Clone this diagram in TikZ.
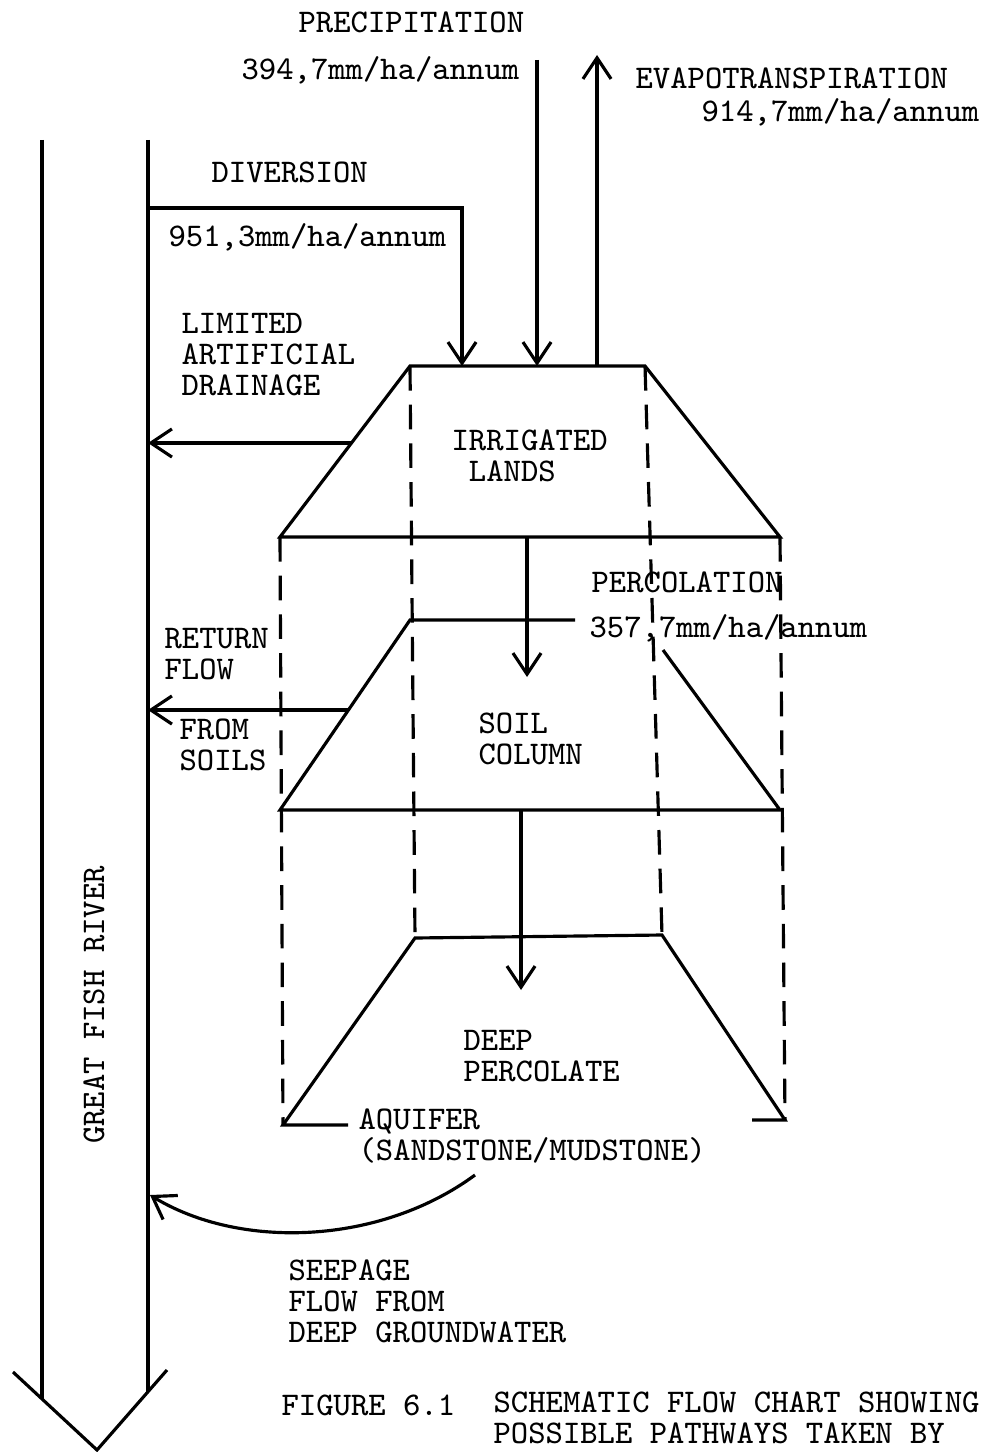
\documentclass[tikz,border=0pt]{standalone}
\usepackage{fontspec}
\usetikzlibrary{arrows.meta}
\begin{document}
\begin{tikzpicture}[x=0.01cm, y=-0.01cm, line width=0.9pt,
    flow/.style={-{Straight Barb[length=6pt,width=8pt]}},
    bound/.style={dash pattern=on 7pt off 4pt},
    label text/.style={align=left, anchor=west, inner sep=0pt}]
  \tikzstyle{every node}=[font=\fontsize{9.4}{8.8}\selectfont\ttfamily]
  \useasboundingbox (0,0) rectangle (999,1452);

  % river
  \coordinate (rl top) at (42,140);
  \coordinate (rr top) at (148,140);
  \coordinate (rl end) at (42,1399);
  \coordinate (rr end) at (148,1392);
  \coordinate (tip l) at (13,1372);
  \coordinate (tip) at (97,1450);
  \coordinate (tip r) at (167,1370);
  \draw (rl top) -- (rl end);
  \draw (rr top) -- (rr end);
  \draw (tip l) -- (tip) -- (tip r);
  \node[rotate=90] (river) at (94,1005) {GREAT FISH RIVER};

  % irrigated lands
  \coordinate (irr tl) at (410,366);
  \coordinate (irr tr) at (645,366);
  \coordinate (irr br) at (780,537);
  \coordinate (irr bl) at (280,537);
  \draw (irr tl) -- (irr tr) -- (irr br) -- (irr bl) -- cycle;

  % soil column
  \coordinate (soil tl) at (410,620);
  \coordinate (soil te) at (575,620);
  \coordinate (soil rs) at (663,650);
  \coordinate (soil br) at (780,810);
  \coordinate (soil bl) at (280,810);
  \draw (soil te) -- (soil tl) -- (soil bl) -- (soil br) -- (soil rs);

  % aquifer
  \coordinate (aq tl) at (415,938);
  \coordinate (aq tr) at (662,935);
  \coordinate (aq br) at (785,1120);
  \coordinate (aq bl) at (283,1125);
  \coordinate (aq el) at (348,1125);
  \coordinate (aq er) at (752,1120);
  \draw (aq el) -- (aq bl) -- (aq tl) -- (aq tr) -- (aq br) -- (aq er);

  % column boundaries
  \draw[bound] (irr tl) -- (aq tl);
  \draw[bound] (irr tr) -- (aq tr);
  \draw[bound] (irr bl) -- (aq bl);
  \draw[bound] (irr br) -- (aq br);

  % flows
  \coordinate (prec top) at (537,60);
  \coordinate (prec end) at (537,366);
  \coordinate (evap base) at (597,366);
  \coordinate (evap top) at (597,55);
  \coordinate (div start) at (148,208);
  \coordinate (div end) at (462,366);
  \coordinate (drain start) at (351,443);
  \coordinate (drain end) at (148,443);
  \coordinate (ret start) at (348,710);
  \coordinate (ret end) at (148,710);
  \coordinate (soil start) at (527,537);
  \coordinate (soil end) at (527,677);
  \coordinate (deep start) at (521,810);
  \coordinate (deep end) at (521,990);
  \coordinate (seep start) at (475,1175);
  \coordinate (seep end) at (150,1195);
  \draw[flow] (prec top) -- (prec end);
  \draw[flow] (evap base) -- (evap top);
  \draw[flow] (div start) -| (div end);
  \draw[flow] (drain start) -- (drain end);
  \draw[flow] (ret start) -- (ret end);
  \draw[flow] (soil start) -- (soil end);
  \draw[flow] (deep start) -- (deep end);
  \draw[flow] (seep start) .. controls (380,1245) and (240,1250) .. (seep end);

  % labels
  \node[label text] (prec) at (297,22) {PRECIPITATION};
  \node[label text] (prec val) at (240,70) {394,7mm/ha/annum};
  \node[label text] (evap) at (634,78) {EVAPOTRANSPIRATION};
  \node[label text] (evap val) at (700,112) {914,7mm/ha/annum};
  \node[label text] (div) at (210,172) {DIVERSION};
  \node[label text] (div val) at (167,237) {951,3mm/ha/annum};
  \node[label text] (drain) at (180,355) {LIMITED\\ARTIFICIAL\\DRAINAGE};
  \node[label text] (irr) at (450,456) {IRRIGATED\\~LANDS};
  \node[label text] (perc) at (590,582) {PERCOLATION};
  \node[label text] (perc val) at (588,628) {357,7mm/ha/annum};
  \node[label text] (ret) at (163,654) {RETURN\\FLOW};
  \node[label text] (ret soils) at (178,745) {FROM\\SOILS};
  \node[label text] (soil) at (477,739) {SOIL\\COLUMN};
  \node[label text] (deep) at (462,1056) {DEEP\\PERCOLATE};
  \node[label text] (aq) at (357,1136) {AQUIFER\\(SANDSTONE/MUDSTONE)};
  \node[label text] (seep) at (287,1301) {SEEPAGE\\FLOW FROM\\DEEP GROUNDWATER};
  \node[label text] (fig) at (280,1405) {FIGURE 6.1};
  \node[label text] (cap) at (492,1418) {SCHEMATIC FLOW CHART SHOWING\\POSSIBLE PATHWAYS TAKEN BY};
\end{tikzpicture}
\end{document}
